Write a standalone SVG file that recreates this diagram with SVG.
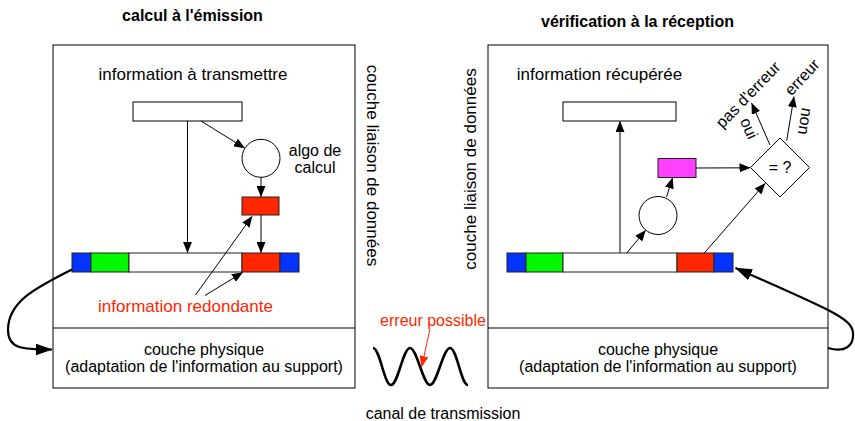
<svg xmlns="http://www.w3.org/2000/svg" width="855" height="421" viewBox="0 0 855 421">
  <defs>
    <marker id="arr" viewBox="0 0 11 9" refX="10.5" refY="4.5" markerWidth="11" markerHeight="9" markerUnits="userSpaceOnUse" orient="auto">
      <path d="M0,0 L11,4.5 L0,9 z" fill="#000"/>
    </marker>
    <marker id="arr-red" viewBox="0 0 11 9" refX="10.5" refY="4.5" markerWidth="11" markerHeight="9" markerUnits="userSpaceOnUse" orient="auto">
      <path d="M0,0 L11,4.5 L0,9 z" fill="#ff2600"/>
    </marker>
    <marker id="arr-thick" viewBox="0 0 17 12" refX="16.5" refY="6" markerWidth="17" markerHeight="12" markerUnits="userSpaceOnUse" orient="auto">
      <path d="M0,0 L17,6 L0,12 z" fill="#000"/>
    </marker>
  </defs>
  <style>
    text { font-family: "Liberation Sans", Arial, sans-serif; fill: #000; }
    .title { font-size: 16px; font-weight: bold; text-anchor: middle; }
    .lbl { font-size: 17px; text-anchor: middle; }
    .sm { font-size: 16px; text-anchor: middle; }
    .red { fill: #ff2600; }
    .box { fill: #fff; stroke: #000; stroke-width: 1; }
    .cell { stroke: #222; stroke-width: 1; }
    .ln { fill: none; stroke: #000; stroke-width: 1; }
    .thick { fill: none; stroke: #000; stroke-width: 2.2; }
  </style>
  <rect width="855" height="421" fill="#fff"/>

  <!-- titles -->
  <text class="title" x="192.5" y="21">calcul à l'émission</text>
  <text class="title" x="637.5" y="26.5">vérification à la réception</text>

  <!-- sender side -->
  <g id="sender">
    <rect class="box" x="53" y="45" width="302" height="343"/>
    <line class="ln" x1="53" y1="328" x2="355" y2="328"/>
    <text class="lbl" x="193" y="80">information à transmettre</text>
    <text class="lbl" transform="translate(367,165.5) rotate(90)">couche liaison de données</text>
    <text class="sm" x="204" y="355">couche physique</text>
    <text class="sm" x="204" y="372">(adaptation de l'information au support)</text>
  </g>
  <g id="sender-data">
    <rect class="box" x="133" y="102" width="109" height="19"/>
  </g>
  <g id="sender-algo">
    <circle class="box" cx="261" cy="158.3" r="19"/>
    <text class="sm" x="315" y="155.5">algo de</text>
    <text class="sm" x="315" y="172.5">calcul</text>
  </g>
  <g id="sender-check">
    <rect class="cell" x="242" y="197" width="37" height="18" fill="#ff2600"/>
  </g>
  <g id="sender-frame">
    <rect class="cell" x="72" y="253" width="19" height="19" fill="#0432ff"/>
    <rect class="cell" x="91" y="253" width="38" height="19" fill="#00f900"/>
    <rect class="cell" x="129" y="253" width="113" height="19" fill="#fff"/>
    <rect class="cell" x="242" y="253" width="38" height="19" fill="#ff2600"/>
    <rect class="cell" x="280" y="253" width="19" height="19" fill="#0432ff"/>
  </g>
  <g id="redundant-label">
    <text class="lbl red" x="185.5" y="312">information redondante</text>
  </g>

  <!-- receiver side -->
  <g id="receiver">
    <rect class="box" x="488" y="45" width="340" height="343"/>
    <line class="ln" x1="488" y1="328" x2="828" y2="328"/>
    <text class="lbl" x="599.5" y="80">information récupérée</text>
    <text class="lbl" transform="translate(476,169) rotate(-90)">couche liaison de données</text>
    <text class="sm" x="658" y="355">couche physique</text>
    <text class="sm" x="658" y="372">(adaptation de l'information au support)</text>
  </g>
  <g id="receiver-data">
    <rect class="box" x="563" y="102" width="113" height="19"/>
  </g>
  <g id="receiver-algo">
    <circle class="box" cx="658" cy="215.5" r="19"/>
  </g>
  <g id="receiver-check">
    <rect class="cell" x="658" y="158.5" width="38" height="19" fill="#ff40ff"/>
  </g>
  <g id="compare">
    <path class="box" d="M750.5,167.5 L780,138 L809.5,167.5 L780,197 z"/>
    <text class="sm" x="780" y="173">= ?</text>
  </g>
  <g id="receiver-frame">
    <rect class="cell" x="507" y="253" width="19" height="19" fill="#0432ff"/>
    <rect class="cell" x="526" y="253" width="37" height="19" fill="#00f900"/>
    <rect class="cell" x="563" y="253" width="114" height="19" fill="#fff"/>
    <rect class="cell" x="677" y="253" width="37" height="19" fill="#ff2600"/>
    <rect class="cell" x="714" y="253" width="19" height="19" fill="#0432ff"/>
  </g>
  <g id="outcomes">
    <text class="sm" transform="translate(752,98.5) rotate(-46)">pas d'erreur</text>
    <text class="sm" transform="translate(806,81) rotate(-47)">erreur</text>
    <text class="sm" transform="translate(744,130.5) rotate(66)">oui</text>
    <text class="sm" transform="translate(800,120.5) rotate(99)">non</text>
  </g>

  <!-- transmission channel -->
  <g id="channel">
    <path d="M373,348 C380,348 384,385 391,385 C398,385 403,348 410,348 C417,348 423,385 430,385 C437,385 443,348 450,348 C457,348 461,385 468,385" fill="none" stroke="#000" stroke-width="2.6"/>
    <text class="sm red" x="433" y="325.5">erreur possible</text>
    <text class="sm" x="443" y="419">canal de transmission</text>
  </g>

  <!-- connectors -->
  <g id="connectors">
    <!-- sender -->
    <line class="ln" x1="187.5" y1="121" x2="187.5" y2="252.5" marker-end="url(#arr)"/>
    <line class="ln" x1="201" y1="121" x2="244.5" y2="148" marker-end="url(#arr)"/>
    <line class="ln" x1="261" y1="177.3" x2="261" y2="196.5" marker-end="url(#arr)"/>
    <line class="ln" x1="261" y1="215" x2="261" y2="252.5" marker-end="url(#arr)"/>
    <line class="ln" x1="195.5" y1="295" x2="252" y2="216.5" marker-end="url(#arr)"/>
    <line class="ln" x1="205" y1="295.5" x2="242.5" y2="272.5" marker-end="url(#arr)"/>
    <path class="thick" d="M72,269.5 C35,288 8,302 8,330 C8,350 25,349.5 52,349.5" marker-end="url(#arr-thick)"/>
    <!-- channel -->
    <line x1="430" y1="329" x2="421.7" y2="366.5" stroke="#ff2600" stroke-width="1" marker-end="url(#arr-red)"/>
    <!-- receiver -->
    <path class="thick" d="M828,348 C845,353 854,346 853,333 C852,318 830,310 735.5,268" marker-end="url(#arr-thick)"/>
    <line class="ln" x1="620" y1="253" x2="620" y2="121.5" marker-end="url(#arr)"/>
    <line class="ln" x1="626.7" y1="253" x2="645.5" y2="230.5" marker-end="url(#arr)"/>
    <line class="ln" x1="666.5" y1="197" x2="672.5" y2="178" marker-end="url(#arr)"/>
    <line class="ln" x1="696" y1="168" x2="750" y2="167.8" marker-end="url(#arr)"/>
    <line class="ln" x1="704.3" y1="253" x2="765" y2="183.5" marker-end="url(#arr)"/>
    <line class="ln" x1="770" y1="145" x2="751.7" y2="103.3" marker-end="url(#arr)"/>
    <line class="ln" x1="786.7" y1="140.7" x2="794" y2="96.7" marker-end="url(#arr)"/>
  </g>
</svg>
